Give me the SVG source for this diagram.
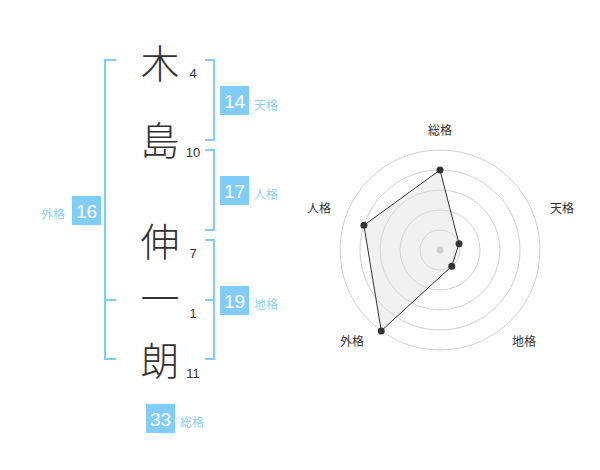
<svg xmlns="http://www.w3.org/2000/svg" width="600" height="470" viewBox="0 0 600 470">
<style>
.kanji{font-family:"Noto Sans CJK JP","Noto Sans CJK SC",sans-serif;font-weight:300;font-size:39px;fill:#333;text-anchor:middle}
.stroke{font-family:"Liberation Sans",Arial,sans-serif;font-size:13px;fill:#333;text-anchor:middle}
.box{fill:#82cdf8}
.num{font-family:"Liberation Sans",Arial,sans-serif;font-size:19px;fill:#fff;text-anchor:middle}
.lbl{font-family:"Noto Sans CJK JP","Noto Sans CJK SC",sans-serif;font-size:12px;fill:#8ccff6}
.br{fill:none;stroke:#82cdf8;stroke-width:2}
.ring{fill:none;stroke:#d0d0d0;stroke-width:1}
.axl{font-family:"Noto Sans CJK JP","Noto Sans CJK SC",sans-serif;font-size:12px;fill:#333;text-anchor:middle}
.pt{fill:#333}
</style>
<rect width="600" height="470" fill="#fff"/>
<g id="connectors">
<path class="br" d="M116,60 H105 V359 H116 M105,300 H116"/>
<path class="br" d="M205,60 H214 V140 H205"/>
<path class="br" d="M205,150 H214 V230 H205"/>
<path class="br" d="M205,240 H214 V359 H205 M214,300 H205"/>
</g>
<g id="name">
<g id="char1"><text class="kanji" x="160" y="77.5">木</text><text class="stroke" x="193" y="77.7">4</text></g>
<g id="char2"><text class="kanji" x="160" y="154.5">島</text><text class="stroke" x="193" y="157">10</text></g>
<g id="char3"><text class="kanji" x="160" y="255.5">伸</text><text class="stroke" x="193" y="257.5">7</text></g>
<g id="char4"><text class="kanji" x="160" y="312.5">一</text><text class="stroke" x="193" y="317.7">1</text></g>
<g id="char5"><text class="kanji" x="160" y="374.5">朗</text><text class="stroke" x="193" y="377.5">11</text></g>
</g>
<g id="tenkaku"><rect class="box" x="220" y="86" width="29" height="29"/><text class="num" x="234.5" y="108">14</text><text class="lbl" x="254" y="109.5">天格</text></g>
<g id="jinkaku"><rect class="box" x="220" y="176" width="29" height="29"/><text class="num" x="234.5" y="198">17</text><text class="lbl" x="254" y="198.5">人格</text></g>
<g id="chikaku"><rect class="box" x="220" y="286" width="29" height="29"/><text class="num" x="234.5" y="308">19</text><text class="lbl" x="254" y="308.5">地格</text></g>
<g id="gaikaku"><rect class="box" x="72" y="196" width="29" height="29"/><text class="num" x="86.5" y="218">16</text><text class="lbl" x="41" y="218.5">外格</text></g>
<g id="soukaku"><rect class="box" x="146" y="404" width="29" height="29"/><text class="num" x="160.5" y="426">33</text><text class="lbl" x="180" y="427">総格</text></g>
<g id="radar">
<circle class="ring" cx="440" cy="250" r="20"/>
<circle class="ring" cx="440" cy="250" r="40"/>
<circle class="ring" cx="440" cy="250" r="60"/>
<circle class="ring" cx="440" cy="250" r="80"/>
<circle class="ring" cx="440" cy="250" r="100"/>
<circle cx="440" cy="250" r="3.5" fill="#c8c8c8"/>
<polygon points="440,170 459.02,243.82 451.76,266.18 381.22,330.9 363.92,225.28" fill="#dcdcdc" fill-opacity="0.4" stroke="#333" stroke-width="1"/>
<circle class="pt" cx="440" cy="170" r="3.5"/>
<circle class="pt" cx="459.02" cy="243.82" r="3.5"/>
<circle class="pt" cx="451.76" cy="266.18" r="3.5"/>
<circle class="pt" cx="381.22" cy="330.9" r="3.5"/>
<circle class="pt" cx="363.92" cy="225.28" r="3.5"/>
<text class="axl" x="440" y="134.5">総格</text>
<text class="axl" x="562" y="212.5">天格</text>
<text class="axl" x="524" y="346">地格</text>
<text class="axl" x="352" y="346">外格</text>
<text class="axl" x="319" y="212.5">人格</text>
</g>
</svg>
